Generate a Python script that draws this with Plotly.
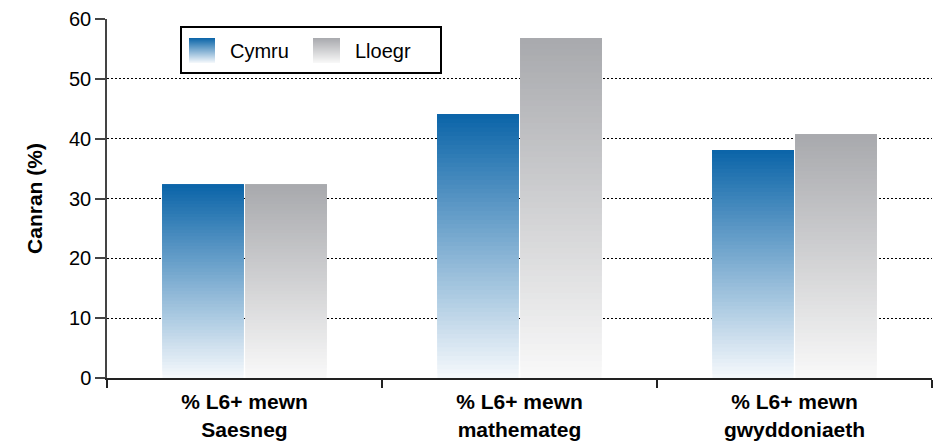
"""
Bar chart: share of pupils at L6+ in Wales and England, by subject.
Bars carry a vertical gradient, built from overlapping bar layers.
"""

import plotly.graph_objects as go

CATEGORIES = [
    "% L6+ mewn<br>Saesneg",
    "% L6+ mewn<br>mathemateg",
    "% L6+ mewn<br>gwyddoniaeth",
]
CYMRU = [32.3, 44.1, 38.1]
LLOEGR = [32.3, 56.8, 40.7]

FONT = "Liberation Sans, Arial, sans-serif"
N_LAYERS = 60

# (top colour, bottom colour) of each gradient
BLUE = ((10, 100, 168), (246, 249, 252))
GREY = ((168, 169, 173), (249, 249, 249))

# plot area in pixels, used to place the hand-drawn legend
W, H = 937, 441
M_L, M_R, M_T, M_B = 107, 5, 19, 63
PLOT_W = W - M_L - M_R
PLOT_H = H - M_T - M_B


def mix(top, bottom, t):
    """Colour at fraction t (0 = bottom, 1 = top)."""
    r, g, b = (round(bottom[i] + (top[i] - bottom[i]) * t) for i in range(3))
    return f"rgb({r},{g},{b})"


def px_x(x):
    return (x - M_L) / PLOT_W


def px_y(y):
    return (H - M_B - y) / PLOT_H


fig = go.Figure()


def add_gradient_bars(values, colours, group):
    # each layer starts higher up and runs to the top of the bar,
    # so later layers overlap earlier ones without seams
    for k in range(N_LAYERS):
        f = k / N_LAYERS
        fig.add_trace(
            go.Bar(
                x=CATEGORIES,
                y=[v * (1 - f) for v in values],
                base=[v * f for v in values],
                offsetgroup=group,
                marker_color=mix(colours[0], colours[1], (k + 0.5) / N_LAYERS),
                marker_line_width=0,
                showlegend=False,
                hoverinfo="skip",
            )
        )


add_gradient_bars(CYMRU, BLUE, "cymru")
add_gradient_bars(LLOEGR, GREY, "lloegr")

# legend drawn by hand so the swatches can carry the gradient
shapes = [
    dict(
        type="rect", xref="paper", yref="paper",
        x0=px_x(181), x1=px_x(441), y0=px_y(73), y1=px_y(27),
        line=dict(color="black", width=2), fillcolor="white", layer="above",
    )
]
annotations = []
for (x0, x1), colours, label in [
    ((189, 215), BLUE, "Cymru"),
    ((313, 340), GREY, "Lloegr"),
]:
    top, bottom = 38, 63
    for i in range(bottom - top):
        shapes.append(
            dict(
                type="rect", xref="paper", yref="paper",
                x0=px_x(x0), x1=px_x(x1),
                y0=px_y(top + i + 1), y1=px_y(top + i),
                line_width=0, layer="above",
                fillcolor=mix(colours[0], colours[1], 1 - (i + 0.5) / (bottom - top)),
            )
        )
    annotations.append(
        dict(
            text=label, xref="paper", yref="paper",
            x=px_x(x1 + 13), y=px_y(51), xanchor="left", yanchor="middle",
            showarrow=False, font=dict(family=FONT, size=20, color="black"),
        )
    )

fig.update_layout(
    width=W,
    height=H,
    margin=dict(l=M_L, r=M_R, t=M_T, b=M_B, autoexpand=False),
    barmode="group",
    bargap=0.396,
    bargroupgap=0.024,
    plot_bgcolor="white",
    paper_bgcolor="white",
    font=dict(family=FONT, color="black"),
    showlegend=False,
    shapes=shapes,
    annotations=annotations,
)
fig.update_xaxes(
    automargin=False,
    showline=True,
    linecolor="#222222",
    linewidth=2,
    ticks="outside",
    tickson="boundaries",
    ticklen=8,
    tickcolor="#222222",
    tickwidth=1.5,
    ticklabelstandoff=4,
    tickfont=dict(family=FONT, size=21, color="black", weight="bold"),
    showgrid=False,
)
fig.update_yaxes(
    automargin=False,
    range=[0, 60],
    dtick=10,
    showline=True,
    linecolor="#444444",
    linewidth=1.5,
    ticks="outside",
    ticklen=10,
    tickcolor="#444444",
    tickwidth=1.5,
    tickfont=dict(family=FONT, size=20, color="black"),
    showgrid=True,
    gridcolor="black",
    gridwidth=1,
    griddash="2px,2px",
    zeroline=False,
    title=dict(
        text="Canran (%)",
        font=dict(family=FONT, size=21, color="black", weight="bold"),
        standoff=21,
    ),
)

# the page's default body margin would push the chart 8px in
fig.write_html(
    "out.html",
    config={"displayModeBar": False},
    post_script="document.body.style.margin = '0'; document.body.style.overflow = 'hidden';",
)
